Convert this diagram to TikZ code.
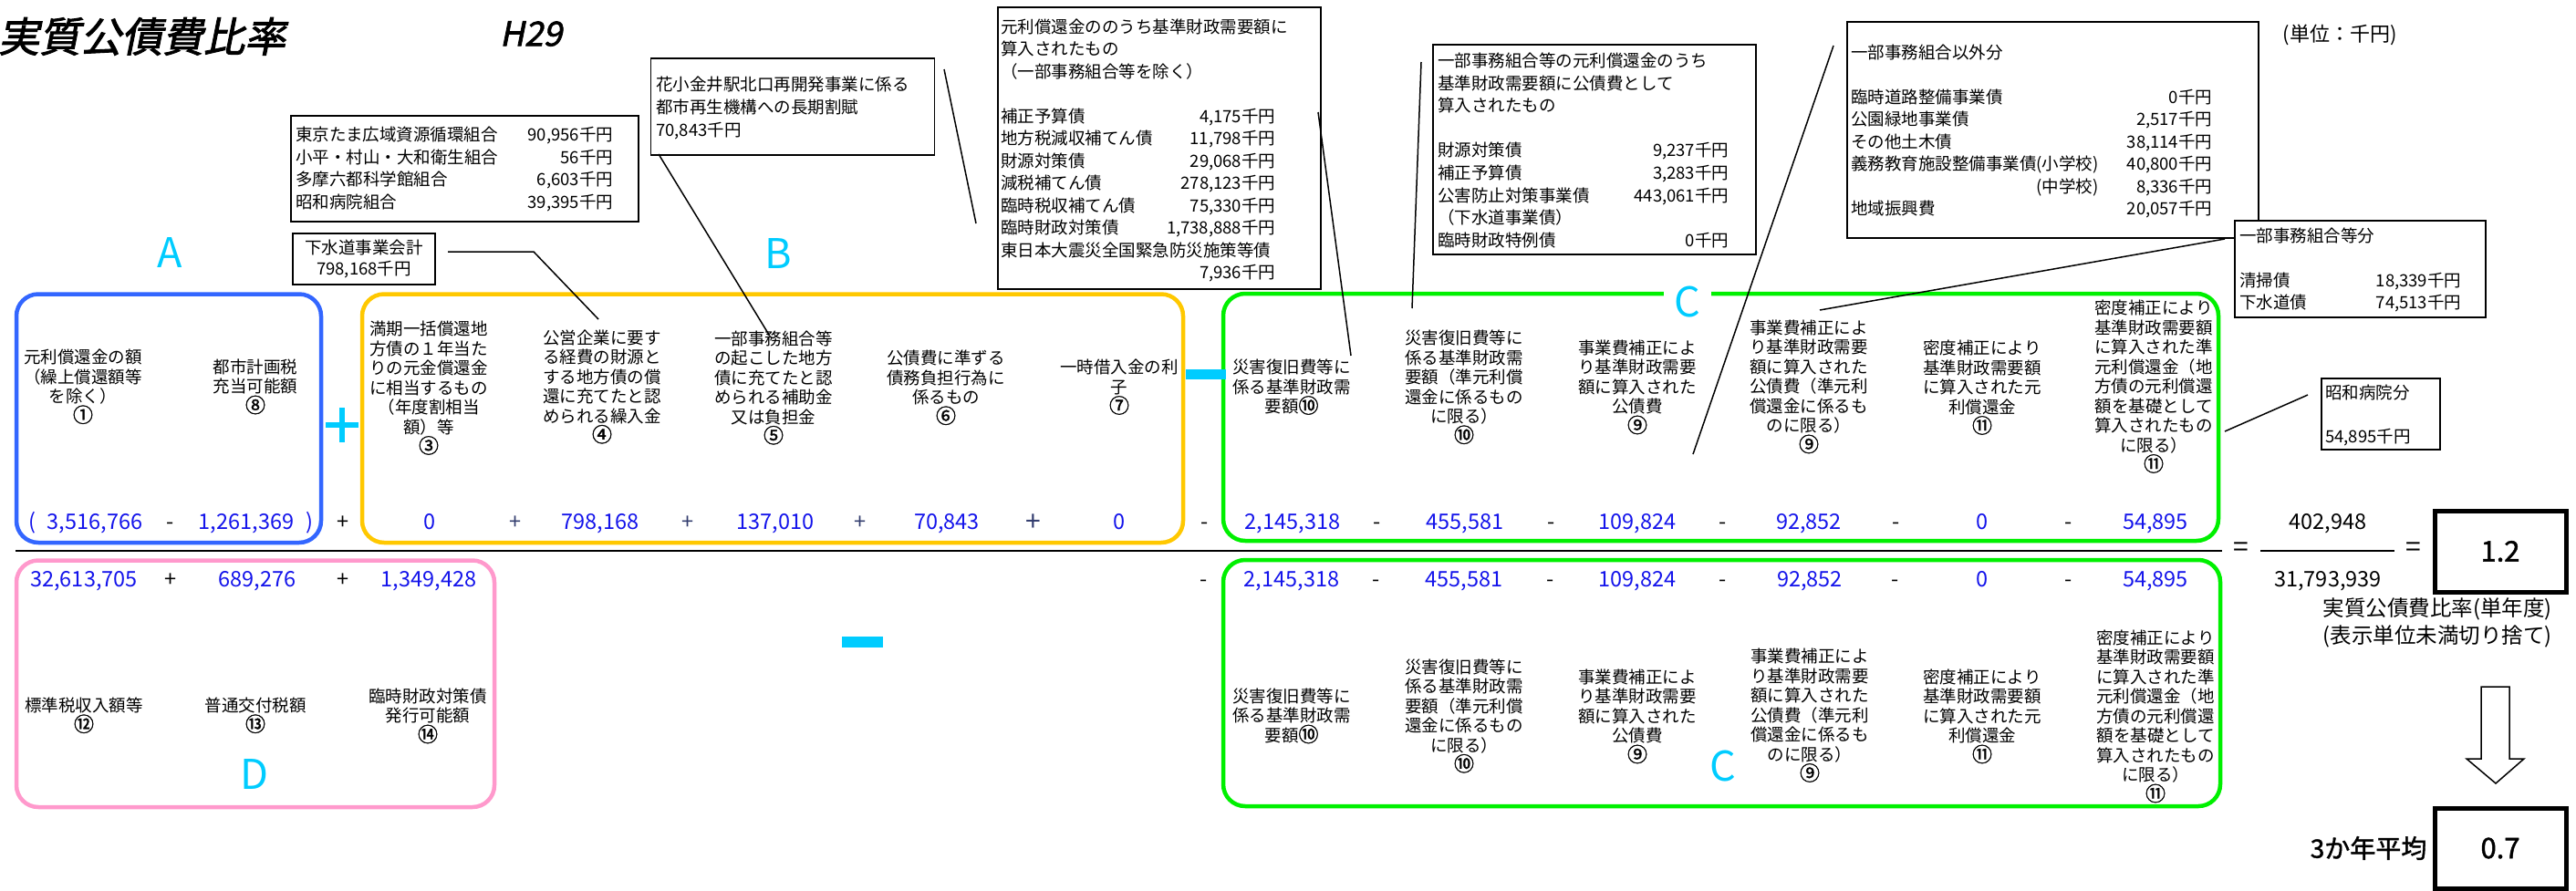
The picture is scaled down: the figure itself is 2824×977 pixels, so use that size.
\documentclass[tikz,border=0pt]{standalone}
\usepackage{fontspec}
\setmainfont{Noto Sans CJK JP}
\newfontfamily\titlefont[FakeSlant=0.2,FakeBold=2]{Noto Sans CJK JP}
\newfontfamily\heavyfont[FakeBold=1.5]{Noto Sans CJK JP}
\usepackage{xcolor}
\usepackage{tikz}
\usetikzlibrary{positioning}
\definecolor{ablue}{RGB}{51,102,255}
\definecolor{byellow}{RGB}{255,200,0}
\definecolor{cgreen}{RGB}{0,240,0}
\definecolor{dpink}{RGB}{255,153,204}
\definecolor{grpcyan}{RGB}{0,204,255}
\definecolor{numblue}{RGB}{20,20,235}
\definecolor{opslate}{RGB}{50,60,110}
\newcommand{\colfont}{\fontsize{18.5}{21.5}\selectfont}
\newcommand{\memofont}{\fontsize{18.5}{24.6}\selectfont}
\newcommand{\numfont}{\fontsize{23.5}{26}\selectfont}
\newcommand{\both}[1]{\multicolumn{2}{@{}l@{}}{#1}}
\newcommand{\cn}[1]{{\heavyfont\fontsize{22}{21.5}\selectfont#1}}
\tikzstyle{grpframe} = [line width=4.5pt, rounded corners=24pt]
\tikzstyle{grplabel} = [text=grpcyan, inner sep=0pt, font=\fontsize{45}{45}\selectfont]
\tikzstyle{coltext} = [align=center, inner sep=0pt, font=\colfont]
\tikzstyle{numtext} = [anchor=base, inner sep=0pt, text=numblue, font=\numfont]
\tikzstyle{optext} = [anchor=base, inner sep=0pt, font=\numfont]
\tikzstyle{memobox} = [draw, fill=white, line width=1.8pt, anchor=north west, inner sep=0pt]
\tikzstyle{memotext} = [anchor=north west, inner sep=0pt, font=\memofont]
\tikzstyle{leader} = [line width=1.5pt]
\tikzstyle{resbox} = [draw, line width=5pt, minimum width=144, minimum height=89, inner sep=0pt, font=\heavyfont\fontsize{31}{31}\selectfont]

\begin{document}
\begin{tikzpicture}[x=1pt, y=-1pt]
\useasboundingbox (0,0) rectangle (2824,977);
\fill[white] (0,0) rectangle (2824,977);

\node[anchor=west, inner sep=0pt, font=\titlefont\fontsize{45}{45}\selectfont] (title) at (-2,40) {実質公債費比率};
\node[inner sep=0pt, font=\titlefont\fontsize{37}{37}\selectfont] (year) at (582,37) {H29};
\node[inner sep=0pt, font=\fontsize{22}{22}\selectfont] (unit) at (2565,38) {(単位：千円)};

\draw[grpframe, draw=ablue] (18,322.5) rectangle (352,595);
\draw[grpframe, draw=byellow] (397,322.5) rectangle (1297,595);
\draw[grpframe, draw=cgreen] (1341,322) rectangle (2432,593);
\draw[grpframe, draw=dpink] (18,614.5) rectangle (542,885);
\draw[grpframe, draw=cgreen] (1341,614) rectangle (2434,884);

\node[grplabel] (A) at (186,277) {A};
\node[grplabel] (B) at (853,278) {B};
\node[grplabel, fill=white, inner xsep=12pt] (C) at (1850,331) {C};
\node[grplabel] (Cb) at (1889,840) {C};
\node[grplabel] (D) at (279,849) {D};

\draw[line width=5.5pt, grpcyan] (357,466) -- (393,466) (375,447) -- (375,485);
\fill[grpcyan] (1300,405) rectangle (1344,416);
\fill[grpcyan] (923,698) rectangle (968,710);

\node[coltext] (a1) at (91,424) {元利償還金の額\\（繰上償還額等\\を除く）\\\cn{①}};
\node[coltext] (a8) at (280,424) {都市計画税\\充当可能額\\\cn{⑧}};
\node[coltext] (b3) at (470,425.5) {満期一括償還地\\方債の１年当た\\りの元金償還金\\に相当するもの\\（年度割相当\\額）等\\\cn{③}};
\node[coltext] (b4) at (660,424) {公営企業に要す\\る経費の財源と\\する地方債の償\\還に充てたと認\\められる繰入金\\\cn{④}};
\node[coltext] (b5) at (848,425) {一部事務組合等\\の起こした地方\\債に充てたと認\\められる補助金\\又は負担金\\\cn{⑤}};
\node[coltext] (b6) at (1037,425) {公債費に準ずる\\債務負担行為に\\係るもの\\\cn{⑥}};
\node[coltext] (b7) at (1227,424.5) {一時借入金の利\\子\\\cn{⑦}};
\node[coltext] (ct1) at (1416,424.5) {災害復旧費等に\\係る基準財政需\\要額\cn{⑩}};
\node[coltext] (ct2) at (1605,424.5) {災害復旧費等に\\係る基準財政需\\要額（準元利償\\還金に係るもの\\に限る）\\\cn{⑩}};
\node[coltext] (ct3) at (1795,424.5) {事業費補正によ\\り基準財政需要\\額に算入された\\公債費\\\cn{⑨}};
\node[coltext] (ct4) at (1983,424) {事業費補正によ\\り基準財政需要\\額に算入された\\公債費（準元利\\償還金に係るも\\のに限る）\\\cn{⑨}};
\node[coltext] (ct5) at (2173,425) {密度補正により\\基準財政需要額\\に算入された元\\利償還金\\\cn{⑪}};
\node[coltext] (ct6) at (2361,424) {密度補正により\\基準財政需要額\\に算入された準\\元利償還金（地\\方債の元利償還\\額を基礎として\\算入されたもの\\に限る）\\\cn{⑪}};

\node[coltext] (d12) at (92,784.5) {標準税収入額等\\\cn{⑫}};
\node[coltext] (d13) at (280,784.5) {普通交付税額\\\cn{⑬}};
\node[coltext] (d14) at (469,785) {臨時財政対策債\\発行可能額\\\cn{⑭}};
\node[coltext] (cb1) at (1416,785) {災害復旧費等に\\係る基準財政需\\要額\cn{⑩}};
\node[coltext] (cb2) at (1605,785) {災害復旧費等に\\係る基準財政需\\要額（準元利償\\還金に係るもの\\に限る）\\\cn{⑩}};
\node[coltext] (cb3) at (1795,785.5) {事業費補正によ\\り基準財政需要\\額に算入された\\公債費\\\cn{⑨}};
\node[coltext] (cb4) at (1984,784.5) {事業費補正によ\\り基準財政需要\\額に算入された\\公債費（準元利\\償還金に係るも\\のに限る）\\\cn{⑨}};
\node[coltext] (cb5) at (2173,785.5) {密度補正により\\基準財政需要額\\に算入された元\\利償還金\\\cn{⑪}};
\node[coltext] (cb6) at (2363,785.5) {密度補正により\\基準財政需要額\\に算入された準\\元利償還金（地\\方債の元利償還\\額を基礎として\\算入されたもの\\に限る）\\\cn{⑪}};

\node[numtext] (pl) at (35,580) {(};
\node[numtext] (v1) at (104,580) {3,516,766};
\node[optext] (m1) at (187,580) {-};
\node[numtext] (v8) at (270,580) {1,261,369};
\node[numtext] (pr) at (339,580) {)};
\node[optext] (p1) at (376,580) {+};
\node[numtext] (v3) at (471,580) {0};
\node[optext, text=opslate] (p2) at (565,580) {+};
\node[numtext] (v4) at (658,580) {798,168};
\node[optext, text=opslate] (p3) at (754,580) {+};
\node[numtext] (v5) at (850,580) {137,010};
\node[optext, text=opslate] (p4) at (943,580) {+};
\node[numtext] (v6) at (1038,580) {70,843};
\node[optext, text=opslate, font=\fontsize{30}{30}\selectfont] (p5) at (1133,582.5) {+};
\node[numtext] (v7) at (1227,580) {0};
\node[optext] (m2) at (1321,580) {-};
\node[numtext] (vt1) at (1417,580) {2,145,318};
\node[optext] (m3) at (1510,580) {-};
\node[numtext] (vt2) at (1606,580) {455,581};
\node[optext] (m4) at (1701,580) {-};
\node[numtext] (vt3) at (1795,580) {109,824};
\node[optext] (m5) at (1889,580) {-};
\node[numtext] (vt4) at (1983,580) {92,852};
\node[optext] (m6) at (2079,580) {-};
\node[numtext] (vt5) at (2173,580) {0};
\node[optext] (m7) at (2268,580) {-};
\node[numtext] (vt6) at (2363,580) {54,895};

\node[numtext] (v12) at (92,643) {32,613,705};
\node[optext] (p6) at (187,643) {+};
\node[numtext] (v13) at (282,643) {689,276};
\node[optext] (p7) at (376,643) {+};
\node[numtext] (v14) at (470,643) {1,349,428};
\node[optext] (m8) at (1320,643) {-};
\node[numtext] (vb1) at (1416,643) {2,145,318};
\node[optext] (m9) at (1509,643) {-};
\node[numtext] (vb2) at (1605,643) {455,581};
\node[optext] (m10) at (1700,643) {-};
\node[numtext] (vb3) at (1795,643) {109,824};
\node[optext] (m11) at (1889,643) {-};
\node[numtext] (vb4) at (1984,643) {92,852};
\node[optext] (m12) at (2078,643) {-};
\node[numtext] (vb5) at (2173,643) {0};
\node[optext] (m13) at (2268,643) {-};
\node[numtext] (vb6) at (2363,643) {54,895};

\draw[line width=2.2pt] (17,604) -- (2436,604);
\node[optext, anchor=center, font=\fontsize{30}{30}\selectfont] (eq1) at (2457,603) {=};
\draw[line width=2.2pt] (2478,604) -- (2625,604);
\node[optext, anchor=center, font=\fontsize{30}{30}\selectfont] (eq2) at (2646,603) {=};
\node[numtext, text=black] (num) at (2552,580) {402,948};
\node[numtext, text=black] (den) at (2552,643) {31,793,939};
\node[resbox] (tan) at (2741,604.5) {1.2};
\node[align=center, inner sep=0pt, font=\fontsize{23.5}{30}\selectfont] (tanlbl) at (2672,683) {実質公債費比率(単年度)\\(表示単位未満切り捨て)};
\draw[line width=1.5pt] (2720,753) -- (2751,753) -- (2751,832) -- (2767,832) -- (2736,859) -- (2704,832) -- (2720,832) -- cycle;
\node[resbox, minimum height=88] (avg) at (2741,930) {0.7};
\node[left=6pt of avg, inner sep=0pt, font=\heavyfont\fontsize{28}{28}\selectfont] (avglbl) {3か年平均};

\node[memobox, minimum width=381, minimum height=116] (kumiai) at (318,126) {};
\node[memotext] (kumiaitx) at (324,137) {\begin{tabular*}{348pt}{@{}l@{\extracolsep{\fill}}r@{}}
東京たま広域資源循環組合 & 90,956千円\\
小平・村山・大和衛生組合 & 56千円\\
多摩六都科学館組合 & 6,603千円\\
昭和病院組合 & 39,395千円
\end{tabular*}};
\node[draw, fill=white, line width=1.8pt, minimum width=156, minimum height=56, align=center, inner sep=0pt, font=\fontsize{18.5}{23}\selectfont] (gesui) at (399,284) {下水道事業会計\\798,168千円};
\node[memobox, minimum width=311, minimum height=106] (hana) at (712.5,63) {};
\node[memotext, font=\fontsize{18.5}{25}\selectfont] (hanatx) at (719,82) {\begin{tabular}{@{}l@{}}
花小金井駅北口再開発事業に係る\\
都市再生機構への長期割賦\\
70,843千円
\end{tabular}};
\node[memobox, minimum width=354, minimum height=309] (gankin) at (1093,7) {};
\node[memotext, font=\fontsize{18.5}{24.5}\selectfont] (gankintx) at (1097,19) {\begin{tabular*}{301pt}{@{}l@{\extracolsep{\fill}}r@{}}
\both{\rlap{元利償還金ののうち基準財政需要額に}}\\
\both{算入されたもの}\\
\both{（一部事務組合等を除く）}\\
\\
補正予算債 & 4,175千円\\
地方税減収補てん債 & 11,798千円\\
財源対策債 & 29,068千円\\
減税補てん債 & 278,123千円\\
臨時税収補てん債 & 75,330千円\\
臨時財政対策債 & 1,738,888千円\\
\both{東日本大震災全国緊急防災施策等債}\\
 & 7,936千円
\end{tabular*}};
\node[memobox, minimum width=354, minimum height=230] (ichibu) at (1570,48) {};
\node[memotext] (ichibutx) at (1576,56) {\begin{tabular*}{319pt}{@{}l@{\extracolsep{\fill}}r@{}}
\both{一部事務組合等の元利償還金のうち}\\
\both{基準財政需要額に公債費として}\\
\both{算入されたもの}\\
\\
財源対策債 & 9,237千円\\
補正予算債 & 3,283千円\\
公害防止対策事業債 & 443,061千円\\
\both{（下水道事業債）}\\
臨時財政特例債 & 0千円
\end{tabular*}};
\node[memobox, minimum width=451, minimum height=237] (igai) at (2024,23) {};
\node[memotext, font=\fontsize{18.5}{24.5}\selectfont] (igaitx) at (2029,47) {\begin{tabular*}{396pt}{@{}l@{\extracolsep{\fill}}r@{}}
\both{一部事務組合以外分}\\
\\
臨時道路整備事業債 & 0千円\\
公園緑地事業債 & 2,517千円\\
その他土木債 & 38,114千円\\
義務教育施設整備事業債(小学校) & 40,800千円\\
\hfill(中学校) & 8,336千円\\
地域振興費 & 20,057千円
\end{tabular*}};
\node[memobox, minimum width=275, minimum height=106] (kumiaibun) at (2449,241) {};
\node[memotext, font=\fontsize{18.5}{24.5}\selectfont] (kumiaibuntx) at (2455,248) {\begin{tabular*}{243pt}{@{}l@{\extracolsep{\fill}}r@{}}
\both{一部事務組合等分}\\
\\
清掃債 & 18,339千円\\
下水道債 & 74,513千円
\end{tabular*}};
\node[memobox, minimum width=130, minimum height=78] (showa) at (2544,414) {};
\node[memotext, font=\fontsize{18.5}{24}\selectfont] (showatx) at (2549,420) {\begin{tabular}{@{}l@{}}
昭和病院分\\
\\
54,895千円
\end{tabular}};

\coordinate (g1) at (491,276);
\coordinate (g2) at (585,276);
\coordinate (g3) at (656,350);
\coordinate (h1) at (722,169);
\coordinate (h2) at (843,367);
\coordinate (k1) at (1035,76);
\coordinate (k2) at (1070,245);
\coordinate (k3) at (1445,123);
\coordinate (k4) at (1481,390);
\coordinate (i1) at (1558,68);
\coordinate (i2) at (1548,338);
\coordinate (o1) at (2010,50);
\coordinate (o2) at (1856,498);
\coordinate (u1) at (2439,262);
\coordinate (u2) at (1995,340);
\coordinate (s1) at (2530,433);
\coordinate (s2) at (2439,473);
\draw[leader] (g1) -- (g2) -- (g3);
\draw[leader] (h1) -- (h2);
\draw[leader] (k1) -- (k2);
\draw[leader] (k3) -- (k4);
\draw[leader] (i1) -- (i2);
\draw[leader] (o1) -- (o2);
\draw[leader] (u1) -- (u2);
\draw[leader] (s1) -- (s2);
\end{tikzpicture}
\end{document}
